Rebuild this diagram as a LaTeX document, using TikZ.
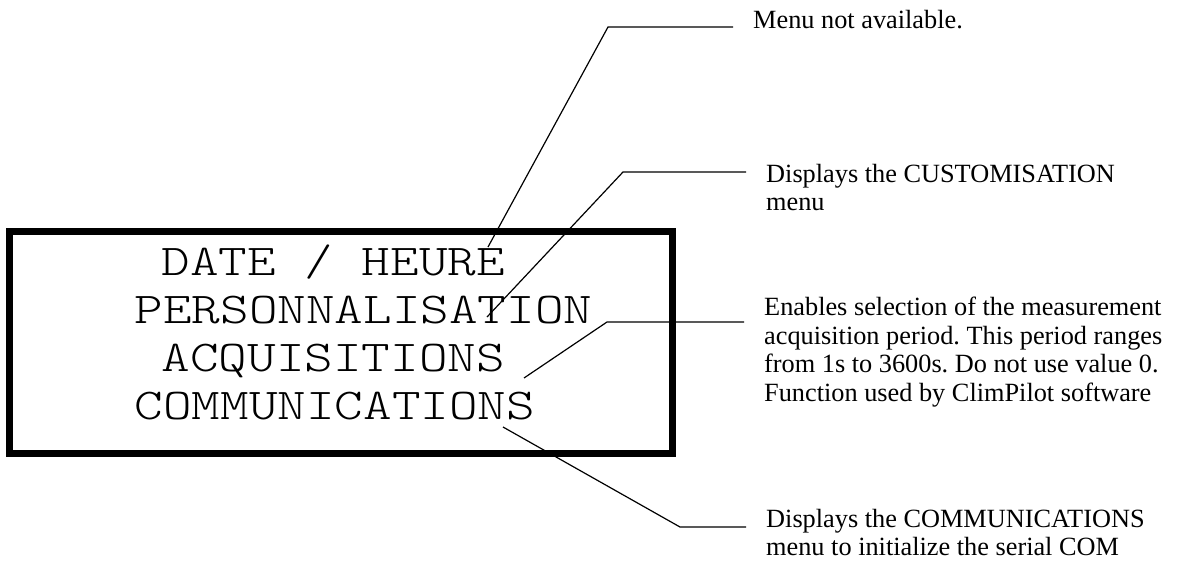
\documentclass[tikz,border=0pt]{standalone}
\usepackage{fontspec}
\setmainfont{Liberation Serif}
\newcommand{\visor}[1]{\scalebox{1.238}[1]{\fontsize{44}{48}\selectfont\ttfamily\fontseries{l}\selectfont #1}}
\frenchspacing
\begin{document}
\begin{tikzpicture}[x=1pt,y=-1pt]
\tikzstyle{lcdtxt}=[anchor=base west, inner sep=0]
\tikzstyle{nota}=[anchor=base west, inner xsep=20pt, inner ysep=0, align=left, font=\fontsize{26.3}{28.5}\selectfont]
\tikzstyle{guia}=[line width=1.2pt]
\useasboundingbox(0,0)rectangle(1184,568);
\node[draw, line width=7pt, minimum width=663pt, minimum height=222pt, inner sep=0](lcd)at(341,342.5){};
\node[lcdtxt](data)at(161.5,275){\visor{DATE / HEURE}};
\node[lcdtxt](pers)at(134.5,323){\visor{PERSONNALISATION}};
\node[lcdtxt](acq)at(161.5,371){\visor{ACQUISITIONS}};
\node[lcdtxt](com)at(134.5,419){\visor{COMMUNICATIONS}};
% base = last line of each note
\node[nota](n1)at(733,28){Menu not available.};
\node[nota](n2)at(746,210.5){Displays the CUSTOMISATION\\menu};
\node[nota](n3)at(744,401){Enables selection of the measurement\\acquisition period. This period ranges\\from 1s to 3600s. Do not use value 0.\\Function used by ClimPilot software};
\node[nota](n4)at(746,555.5){Displays the COMMUNICATIONS\\menu to initialize the serial COM};
\coordinate(a1)at(488,247);
\coordinate(b1)at(608,27);
\coordinate(a2)at(487,317);
\coordinate(b2)at(623,172);
\coordinate(a3)at(524,378);
\coordinate(b3)at(607,322);
\coordinate(a4)at(503,427);
\coordinate(b4)at(680,527);
\draw[guia](a1)--(b1)--(b1-|n1.west);
\draw[guia](a2)--(b2)--(b2-|n2.west);
\draw[guia](a3)--(b3)--(b3-|n3.west);
\draw[guia](a4)--(b4)--(b4-|n4.west);
\end{tikzpicture}
\end{document}
